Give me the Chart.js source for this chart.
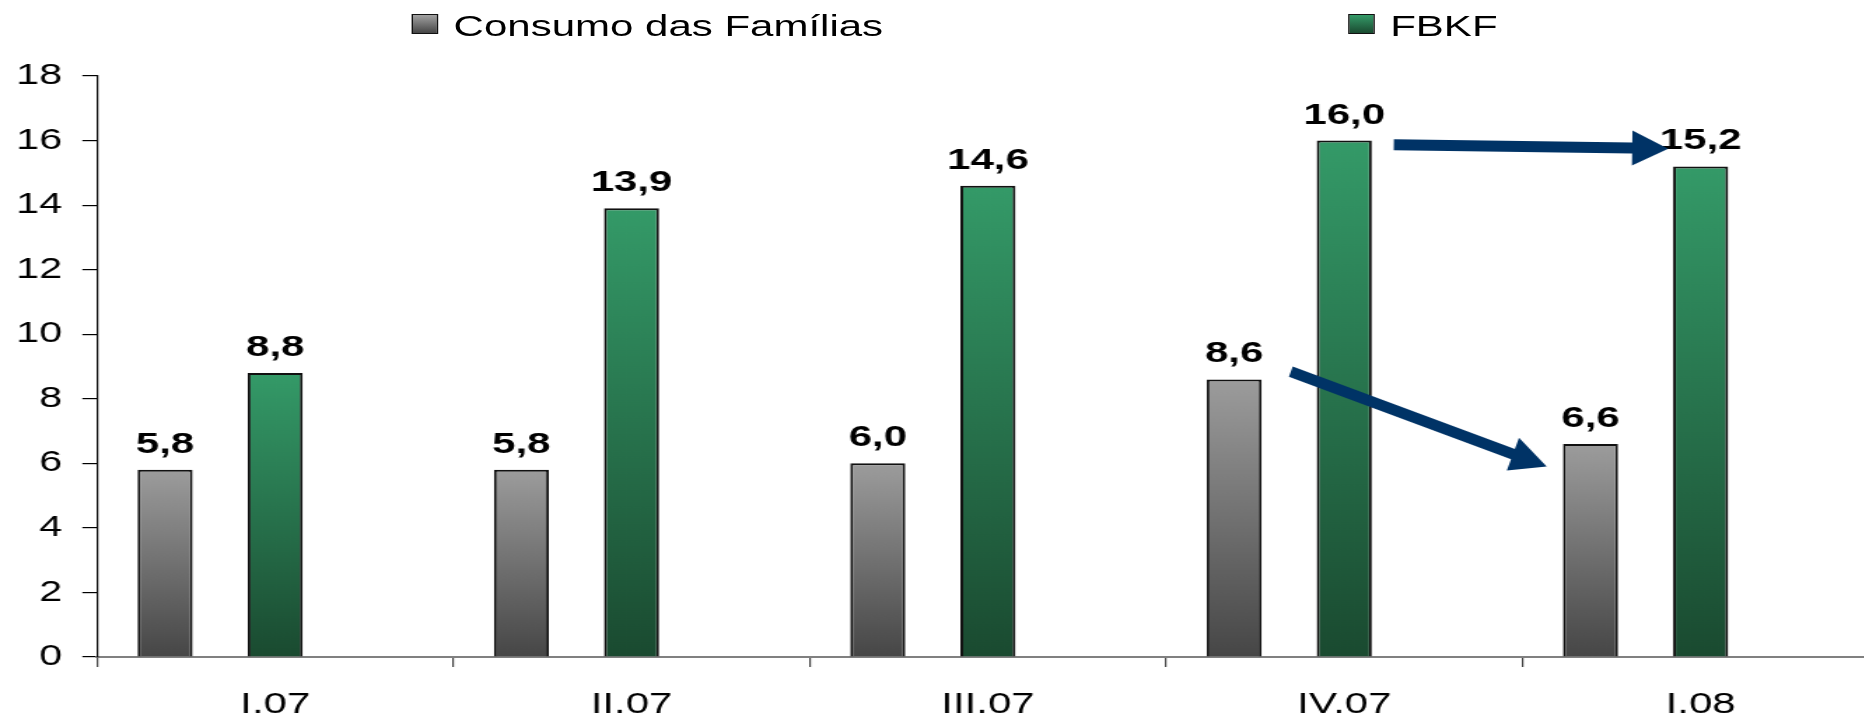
<!DOCTYPE html>
<html lang="pt">
<head>
<meta charset="utf-8">
<title>Consumo das Famílias e FBKF</title>
<script src="https://cdn.jsdelivr.net/npm/chart.js@4.4.1/dist/chart.umd.min.js"></script>
<style>
  html, body { margin: 0; padding: 0; background: #fff; overflow: hidden; width: 1864px; height: 718px; }
  /* the reference is drawn horizontally stretched, so the whole stage is widened */
  #stage { position: absolute; left: 0; top: 0; width: 1342px; height: 743px; transform: scaleX(1.4); transform-origin: 0 0; }
  #chartBox { position: absolute; left: 0; top: 0; width: 1342px; height: 743px; }
  .legend-text { position: absolute; top: 11px; font: 30px "Liberation Sans", Arial, sans-serif; line-height: 30px; color: #000; white-space: nowrap; }
  .swatch { position: absolute; top: 14px; width: 19px; height: 20px; box-sizing: border-box; border: 1.5px solid #111; }
  .swatch.gray { background: linear-gradient(#a2a2a2, #454545); }
  .swatch.green { background: linear-gradient(#349a68, #1a4a30); }
</style>
</head>
<body>
<div id="stage">
  <div class="swatch gray" style="left:294px"></div>
  <div class="legend-text" style="left:324px">Consumo das Famílias</div>
  <div class="swatch green" style="left:963px"></div>
  <div class="legend-text" style="left:993px">FBKF</div>
  <div id="chartBox"><canvas id="chart"></canvas></div>
</div>
<script>
const STRETCH = 1.4;
const FONT = '"Liberation Sans", Arial, sans-serif';

const categories = ['I.07', 'II.07', 'III.07', 'IV.07', 'I.08'];
const consumo = [5.8, 5.8, 6.0, 8.6, 6.6];
const fbkf = [8.8, 13.9, 14.6, 16.0, 15.2];
const empty = [null, null, null, null, null];
const yMin = 0;
const yMax = 18;
const yStep = 2;

// arrow annotations in data space: [category index, value]
const arrows = [
  { from: [3.139, 15.87], to: [3.909, 15.75] },
  { from: [2.85, 8.84], to: [3.568, 5.9] }
];

function barFill(top, bottom) {
  return (ctx) => {
    const chart = ctx.chart;
    if (!chart.chartArea || ctx.raw === null || ctx.raw === undefined) return bottom;
    const ys = chart.scales.y;
    const g = chart.ctx.createLinearGradient(0, ys.getPixelForValue(ctx.raw), 0, ys.getPixelForValue(0));
    g.addColorStop(0, top);
    g.addColorStop(1, bottom);
    return g;
  };
}

const valueLabels = {
  id: 'valueLabels',
  afterDatasetsDraw(chart) {
    const ctx = chart.ctx;
    ctx.save();
    ctx.font = `bold 30px ${FONT}`;
    ctx.fillStyle = '#000';
    ctx.textAlign = 'center';
    ctx.textBaseline = 'alphabetic';
    [0, 1].forEach((d) => {
      const meta = chart.getDatasetMeta(d);
      meta.data.forEach((bar, i) => {
        const v = chart.data.datasets[d].data[i];
        if (v === null) return;
        ctx.fillText(v.toFixed(1).replace('.', ','), bar.x, bar.y - 17);
      });
    });
    ctx.restore();
  }
};

const arrowLayer = {
  id: 'arrowLayer',
  afterDatasetsDraw(chart) {
    const ctx = chart.ctx;
    const xs = chart.scales.x;
    const ys = chart.scales.y;
    ctx.save();
    ctx.scale(1 / STRETCH, 1); // draw in on-screen pixels
    ctx.fillStyle = '#003366';
    arrows.forEach(({ from, to }) => {
      const x0 = xs.getPixelForValue(from[0]) * STRETCH, y0 = ys.getPixelForValue(from[1]);
      const x1 = xs.getPixelForValue(to[0]) * STRETCH, y1 = ys.getPixelForValue(to[1]);
      const len = Math.hypot(x1 - x0, y1 - y0);
      const ux = (x1 - x0) / len, uy = (y1 - y0) / len;
      const nx = -uy, ny = ux;
      const head = 36, headHalf = 17.5, shaft = 5.5;
      const bx = x1 - ux * head, by = y1 - uy * head;
      ctx.beginPath();
      ctx.moveTo(x0 + nx * shaft, y0 + ny * shaft);
      ctx.lineTo(bx + nx * shaft, by + ny * shaft);
      ctx.lineTo(bx + nx * headHalf, by + ny * headHalf);
      ctx.lineTo(x1, y1);
      ctx.lineTo(bx - nx * headHalf, by - ny * headHalf);
      ctx.lineTo(bx - nx * shaft, by - ny * shaft);
      ctx.lineTo(x0 - nx * shaft, y0 - ny * shaft);
      ctx.closePath();
      ctx.fill();
    });
    ctx.restore();
  }
};

new Chart(document.getElementById('chart'), {
  type: 'bar',
  data: {
    labels: categories,
    datasets: [
      { label: 'Consumo das Famílias', data: consumo, backgroundColor: barFill('#9c9c9c', '#464646'), borderColor: '#111', borderWidth: 2 },
      { label: 'FBKF', data: fbkf, backgroundColor: barFill('#349a68', '#1a4a30'), borderColor: '#111', borderWidth: 2 },
      { label: '', data: empty }
    ]
  },
  options: {
    responsive: true,
    maintainAspectRatio: false,
    animation: false,
    layout: { padding: { top: 76, left: 0, right: 0, bottom: 0 } },
    datasets: { bar: { categoryPercentage: 0.927, barPercentage: 0.5 } },
    plugins: { legend: { display: false }, tooltip: { enabled: false } },
    scales: {
      x: {
        grid: { offset: true, drawOnChartArea: false, tickLength: 10, color: '#444', lineWidth: 1.2 },
        border: { display: true, color: '#808080', width: 2 },
        ticks: { color: '#000', font: { family: FONT, size: 30 }, padding: 20 }
      },
      y: {
        min: yMin,
        max: yMax,
        afterFit(scale) { scale.width = 69.3; },
        grid: { drawOnChartArea: false, tickLength: 10.5, color: '#000', lineWidth: 1.2 },
        border: { display: true, color: '#000', width: 1.2 },
        ticks: { stepSize: yStep, color: '#000', font: { family: FONT, size: 29.5 }, padding: 14.5 }
      }
    }
  },
  plugins: [valueLabels, arrowLayer]
});
</script>
</body>
</html>
